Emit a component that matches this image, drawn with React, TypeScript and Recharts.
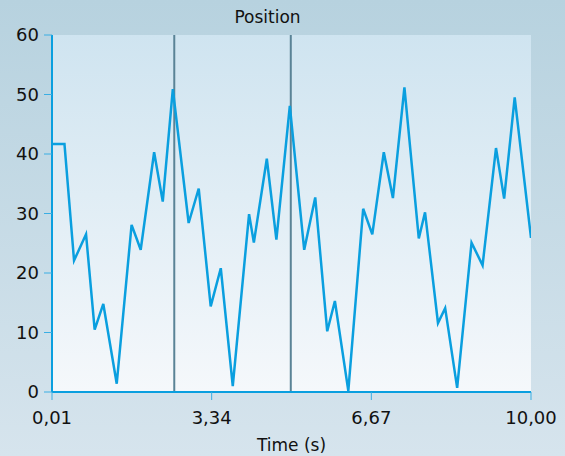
import React from "react";
import {
  LineChart, Line, XAxis, YAxis, CartesianGrid, ReferenceLine, Label,
} from "recharts";

// time stamps (s) and position samples
const times = [
  0.01, 0.27, 0.47, 0.72, 0.9, 1.08, 1.36, 1.67, 1.86, 2.14, 2.32, 2.53, 2.86, 3.07,
  3.32, 3.53, 3.78, 4.12, 4.22, 4.49, 4.69, 4.97, 5.27, 5.5, 5.75, 5.91, 6.19, 6.5,
  6.69, 6.93, 7.12, 7.36, 7.66, 7.79, 8.06, 8.21, 8.46, 8.76, 8.99, 9.27, 9.44, 9.66, 10.0,
];
const positions = [
  41.7, 41.7, 22.1, 26.5, 10.5, 14.8, 1.4, 28.1, 23.9, 40.3, 32.0, 50.9, 28.4, 34.2,
  14.4, 20.8, 1.0, 29.9, 25.1, 39.2, 25.6, 48.1, 23.9, 32.7, 10.2, 15.3, 0.2, 30.8,
  26.5, 40.3, 32.6, 51.2, 25.8, 30.2, 11.6, 14.1, 0.7, 25.1, 21.3, 41.0, 32.5, 49.5, 25.9,
];
const xTicks = [0.01, 3.34, 6.67, 10.0];
const yTicks = [0, 10, 20, 30, 40, 50, 60];
const markers = [2.56, 4.99];

const data = times.map((t, i) => ({ t, pos: positions[i] }));

const FONT = "'DejaVu Sans', sans-serif";
const BLUE = "#0a9fdf";

export default function App() {
  return (
    <div style={{
      position: "relative", width: 565, height: 456,
      background: "linear-gradient(180deg, #b7d2df 0%, #d6e4ed 100%)",
      fontFamily: FONT,
    }}>
      <style>{`body{margin:0}`}</style>
      <div style={{
        position: "absolute", top: 7, left: 0, width: 535, textAlign: "center",
        fontSize: 17, color: "#111",
      }}>Position</div>
      <LineChart width={565} height={456} data={data}
        margin={{ top: 35, right: 34, bottom: 0, left: 0 }}>
        <defs>
          <linearGradient id="plotBg" x1="0" y1="0" x2="0" y2="1">
            <stop offset="0%" stopColor="#cfe4f0" />
            <stop offset="100%" stopColor="#f5f8fb" />
          </linearGradient>
        </defs>
        <CartesianGrid horizontal={false} vertical={false} fill="url(#plotBg)" fillOpacity={1} />
        <XAxis dataKey="t" type="number" domain={[0.01, 10]} ticks={xTicks}
          height={64} tickSize={8} tickMargin={11}
          axisLine={{ stroke: BLUE, strokeWidth: 2 }}
          tickLine={{ stroke: "#3aaee3", strokeWidth: 1 }}
          tick={{ fill: "#111", fontSize: 18, fontFamily: FONT }}
          tickFormatter={(v: number) => v.toFixed(2).replace(".", ",")}
          allowDataOverflow>
          <Label value="Time (s)" position="insideBottom" offset={5}
            style={{ fill: "#111", fontSize: 17, fontFamily: FONT }} />
        </XAxis>
        <YAxis type="number" domain={[0, 60]} ticks={yTicks} width={52}
          tickSize={8} tickMargin={5}
          axisLine={{ stroke: BLUE, strokeWidth: 2 }}
          tickLine={{ stroke: "#3aaee3", strokeWidth: 1 }}
          tick={{ fill: "#111", fontSize: 18, fontFamily: FONT }} />
        {markers.map((m) => (
          <ReferenceLine key={m} x={m} stroke="#5a8396" strokeWidth={2} />
        ))}
        <Line type="linear" dataKey="pos" stroke={BLUE} strokeWidth={2.5}
          dot={false} isAnimationActive={false} />
      </LineChart>
    </div>
  );
}
